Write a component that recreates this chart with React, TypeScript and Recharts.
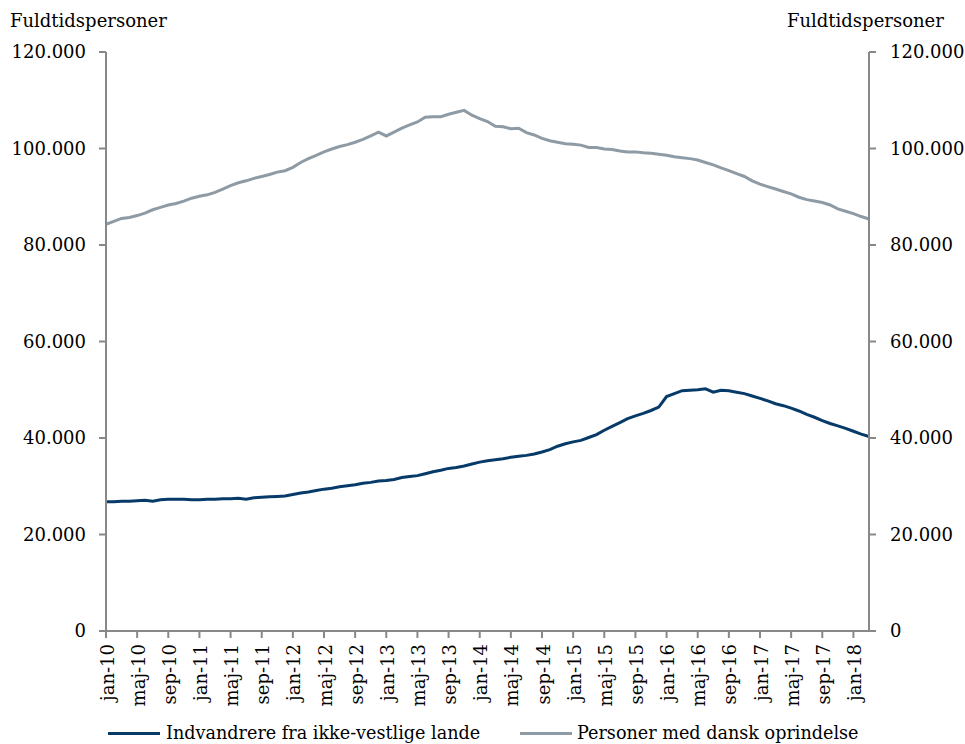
import React from 'react';
import { LineChart, Line, XAxis, YAxis } from 'recharts';

const MONTHS = ['jan', 'feb', 'mar', 'apr', 'maj', 'jun', 'jul', 'aug', 'sep', 'okt', 'nov', 'dec'];

// monthly, jan-10 .. mar-18
const categories: string[] = [];
for (let y = 10; y <= 18; y++) {
  for (let m = 0; m < 12; m++) {
    if (y === 18 && m > 2) break;
    categories.push(`${MONTHS[m]}-${y}`);
  }
}

// thousands of full-time persons
const indvandrere = [
  26.8, 26.8, 26.9, 26.9, 27.0, 27.1, 26.9, 27.2, 27.3, 27.3, 27.3, 27.2,
  27.2, 27.3, 27.3, 27.4, 27.4, 27.5, 27.3, 27.6, 27.7, 27.8, 27.9, 28.0,
  28.3, 28.6, 28.8, 29.1, 29.4, 29.6, 29.9, 30.1, 30.3, 30.6, 30.8, 31.1,
  31.2, 31.4, 31.8, 32.0, 32.2, 32.6, 33.0, 33.3, 33.7, 33.9, 34.2, 34.6,
  35.0, 35.3, 35.5, 35.7, 36.0, 36.2, 36.4, 36.7, 37.1, 37.6, 38.3, 38.8,
  39.2, 39.5, 40.1, 40.7, 41.6, 42.4, 43.2, 44.0, 44.6, 45.1, 45.7, 46.4,
  48.6, 49.2, 49.8, 49.9, 50.0, 50.2, 49.5, 49.9, 49.8, 49.5, 49.2, 48.7,
  48.2, 47.7, 47.1, 46.7, 46.2, 45.6, 44.9, 44.3, 43.6, 43.0, 42.5, 42.0,
  41.4, 40.8, 40.3,
];

const dansk = [
  84.3, 84.9, 85.5, 85.7, 86.1, 86.6, 87.3, 87.8, 88.3, 88.6, 89.1, 89.7,
  90.1, 90.4, 90.9, 91.6, 92.3, 92.9, 93.3, 93.8, 94.2, 94.6, 95.1, 95.4,
  96.1, 97.1, 97.9, 98.6, 99.3, 99.9, 100.4, 100.8, 101.3, 101.9, 102.6, 103.4,
  102.6, 103.4, 104.2, 104.9, 105.5, 106.5, 106.6, 106.6, 107.1, 107.5, 107.9, 106.9,
  106.2, 105.6, 104.6, 104.5, 104.1, 104.2, 103.3, 102.8, 102.1, 101.6, 101.3, 101.0,
  100.9, 100.7, 100.2, 100.2, 99.9, 99.8, 99.5, 99.3, 99.3, 99.1, 99.0, 98.8,
  98.6, 98.3, 98.1, 97.9, 97.6, 97.1, 96.6, 96.0, 95.4, 94.8, 94.2, 93.3,
  92.6, 92.1, 91.6, 91.1, 90.6, 89.9, 89.4, 89.1, 88.8, 88.3, 87.5, 87.0,
  86.5, 85.9, 85.4,
];

const yTicks = [0, 20000, 40000, 60000, 80000, 100000, 120000];

const data = categories.map((c, i) => ({
  month: c,
  indv: indvandrere[i] * 1000,
  dansk: dansk[i] * 1000,
}));

const xTicks = categories.filter((_, i) => i % 4 === 0);

const FONT = '"DejaVu Serif", serif';
const AXIS = '#888888';
const BLUE = '#063a69';
const GRAY = '#8e9ba5';

const fmt = (v: number) => (v === 0 ? '0' : v.toLocaleString('de-DE'));

const XTick = (props: any) => {
  const { x, y, payload } = props;
  return (
    <text
      x={0}
      y={0}
      transform={`translate(${x + 7.5},${y + 4}) rotate(-90)`}
      textAnchor="end"
      fontFamily={FONT}
      fontSize={18}
      fill="#000"
    >
      {payload.value}
    </text>
  );
};

const labelStyle: React.CSSProperties = {
  position: 'absolute',
  fontFamily: FONT,
  fontSize: 18,
  lineHeight: '18px',
  color: '#000',
  whiteSpace: 'nowrap',
};

export default function App() {
  return (
    <div style={{ position: 'absolute', left: 0, top: 0, width: 965, height: 744, background: '#fff', overflow: 'hidden' }}>
      <div style={{ ...labelStyle, left: 10, top: 12 }}>Fuldtidspersoner</div>
      <div style={{ ...labelStyle, left: 787, top: 12 }}>Fuldtidspersoner</div>
      <LineChart width={965} height={744} data={data} margin={{ top: 52, right: 0, bottom: 0, left: 0 }}>
        <XAxis
          dataKey="month"
          ticks={xTicks}
          interval={0}
          tick={<XTick />}
          stroke={AXIS}
          strokeWidth={2}
          tickSize={7}
          height={113}
        />
        <YAxis
          yAxisId="left"
          domain={[0, 120000]}
          ticks={yTicks}
          tickFormatter={fmt}
          stroke={AXIS}
          strokeWidth={2}
          tickSize={7}
          tickMargin={13}
          width={106}
          tick={{ fill: '#000', fontFamily: FONT, fontSize: 18 }}
        />
        <YAxis
          yAxisId="right"
          orientation="right"
          domain={[0, 120000]}
          ticks={yTicks}
          tickFormatter={fmt}
          stroke={AXIS}
          strokeWidth={2}
          tickSize={7}
          tickMargin={14}
          width={96}
          tick={{ fill: '#000', fontFamily: FONT, fontSize: 18, textAnchor: 'start' }}
        />
        <Line yAxisId="left" dataKey="indv" stroke={BLUE} strokeWidth={3} dot={false} isAnimationActive={false} />
        <Line yAxisId="right" dataKey="dansk" stroke={GRAY} strokeWidth={3} dot={false} isAnimationActive={false} />
      </LineChart>
      <div style={{ position: 'absolute', left: 108, top: 732, width: 52, height: 3, background: BLUE }} />
      <div style={{ ...labelStyle, left: 166, top: 724, fontSize: 17.6 }}>Indvandrere fra ikke-vestlige lande</div>
      <div style={{ position: 'absolute', left: 520, top: 732, width: 52, height: 3, background: GRAY }} />
      <div style={{ ...labelStyle, left: 577, top: 724, fontSize: 17.6 }}>Personer med dansk oprindelse</div>
    </div>
  );
}
